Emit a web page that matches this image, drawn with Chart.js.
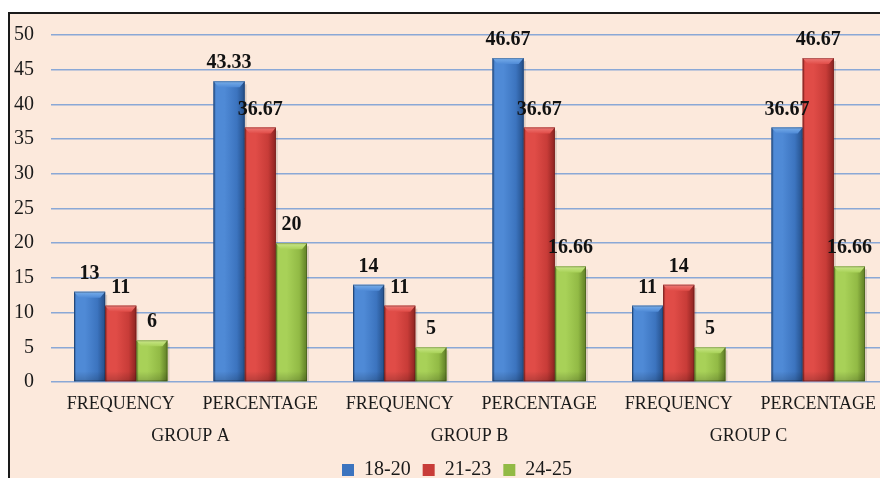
<!DOCTYPE html>
<html>
<head>
<meta charset="utf-8">
<script src="https://cdn.jsdelivr.net/npm/chart.js@4/dist/chart.umd.min.js"></script>
<style>
  html, body { margin: 0; padding: 0; background: #ffffff; overflow: hidden; width: 880px; height: 478px; }
  #frame {
    position: absolute; left: 8px; top: 12px; width: 910px; height: 500px;
    border-left: 2px solid #1a1a1a; border-top: 2px solid #1a1a1a;
    background: #FCE9DC;
  }
  #box { position: absolute; left: 0; top: -8px; width: 896px; height: 486px; }
</style>
</head>
<body>
<div id="frame"><div id="box"><canvas id="chart"></canvas></div></div>
<script>
// Category rows: measure type under each group
const categories = ['FREQUENCY', 'PERCENTAGE', 'FREQUENCY', 'PERCENTAGE', 'FREQUENCY', 'PERCENTAGE'];
const groups = ['GROUP A', 'GROUP B', 'GROUP C'];
const seriesNames = ['18-20', '21-23', '24-25'];

// Values per age band
const age18to20 = [13, 43.33, 14, 46.67, 11, 36.67];
const age21to23 = [11, 36.67, 11, 36.67, 14, 46.67];
const age24to25 = [6, 20, 5, 16.66, 5, 16.66];

// Axis ticks
const yTicks = [0, 5, 10, 15, 20, 25, 30, 35, 40, 45, 50];

const serif = '"Liberation Serif", "Times New Roman", serif';

// Shading palette for each series: edge-light, body, edge-dark, bevel
const shades = [
  { light: '#4F8AD6', mid: '#3C74BF', dark: '#2A5896', bevel: '#78AEEB' },
  { light: '#E04C47', mid: '#C83C38', dark: '#9A2926', bevel: '#F07A76' },
  { light: '#A8D158', mid: '#92BA45', dark: '#6A8B2C', bevel: '#CBE88A' }
];

// Paint each bar with a bevelled, shaded face
const bevelBars = {
  id: 'bevelBars',
  afterDatasetsDraw(chart) {
    const ctx = chart.ctx;
    chart.data.datasets.forEach((ds, di) => {
      const meta = chart.getDatasetMeta(di);
      const s = shades[di];
      meta.data.forEach(bar => {
        const w = bar.width;
        const x0 = bar.x - w / 2, x1 = bar.x + w / 2;
        const top = bar.y, base = bar.base;
        ctx.save();
        // soft drop shadow
        ctx.fillStyle = 'rgba(0,0,0,0.12)';
        ctx.fillRect(x1, top + 3, 2, base - top - 3);
        // body: horizontal shading
        const g = ctx.createLinearGradient(x0, 0, x1, 0);
        g.addColorStop(0, s.dark);
        g.addColorStop(0.08, s.light);
        g.addColorStop(0.35, s.light);
        g.addColorStop(0.75, s.mid);
        g.addColorStop(0.94, s.dark);
        g.addColorStop(1, s.dark);
        ctx.fillStyle = g;
        ctx.fillRect(x0, top, w, base - top);
        // darker foot of the bar
        const v = ctx.createLinearGradient(0, base - 10, 0, base);
        v.addColorStop(0, 'rgba(0,0,0,0)');
        v.addColorStop(1, 'rgba(0,0,0,0.18)');
        ctx.fillStyle = v;
        ctx.fillRect(x0, Math.max(top, base - 10), w, Math.min(10, base - top));
        // top bevel
        const bh = Math.min(6, (base - top) / 2);
        const tg = ctx.createLinearGradient(0, top, 0, top + bh);
        tg.addColorStop(0, s.bevel);
        tg.addColorStop(1, s.light);
        ctx.fillStyle = tg;
        ctx.beginPath();
        ctx.moveTo(x0, top);
        ctx.lineTo(x1, top);
        ctx.lineTo(x1 - 5, top + bh);
        ctx.lineTo(x0 + 5, top + bh);
        ctx.closePath();
        ctx.fill();
        // outline edges
        ctx.strokeStyle = 'rgba(0,0,0,0.25)';
        ctx.lineWidth = 1;
        ctx.strokeRect(x0 + 0.5, top + 0.5, w - 1, base - top - 1);
        ctx.restore();
      });
    });
  }
};

// Value labels above each bar
const valueLabels = {
  id: 'valueLabels',
  afterDatasetsDraw(chart) {
    const ctx = chart.ctx;
    ctx.save();
    ctx.font = 'bold 20px ' + serif;
    ctx.fillStyle = '#111111';
    ctx.textAlign = 'center';
    ctx.textBaseline = 'alphabetic';
    chart.data.datasets.forEach((ds, di) => {
      const meta = chart.getDatasetMeta(di);
      meta.data.forEach((bar, i) => {
        ctx.fillText(String(ds.data[i]), bar.x, bar.y - 13);
      });
    });
    ctx.restore();
  }
};

// Centre the legend on the full canvas width rather than the padded area
const legendShift = {
  id: 'legendShift',
  afterLayout(chart) {
    if (chart.legend) {
      chart.legend.left += 7;
      chart.legend.right += 7;
    }
  }
};

new Chart(document.getElementById('chart'), {
  type: 'bar',
  data: {
    labels: categories,
    datasets: [
      { label: seriesNames[0], data: age18to20, backgroundColor: shades[0].mid },
      { label: seriesNames[1], data: age21to23, backgroundColor: shades[1].mid },
      { label: seriesNames[2], data: age24to25, backgroundColor: shades[2].mid }
    ]
  },
  options: {
    responsive: true,
    maintainAspectRatio: false,
    animation: false,
    events: [],
    datasets: { bar: { categoryPercentage: 0.67, barPercentage: 1, borderWidth: 0 } },
    layout: { padding: { left: 2, right: 18, top: 2, bottom: 2 } },
    scales: {
      y: {
        min: 0, max: 50,
        afterBuildTicks(axis) { axis.ticks = yTicks.map(v => ({ value: v })); },
        afterFit(axis) { axis.width = 39; },
        grid: { color: '#8AA8D6', lineWidth: 1.5, drawTicks: false },
        border: { display: false },
        ticks: { padding: 17, color: '#1a1a1a', font: { family: serif, size: 20 } }
      },
      x: {
        afterFit(axis) { axis.height = 33; },
        grid: { display: false, drawTicks: false },
        border: { display: false },
        ticks: { padding: 11, color: '#1a1a1a', maxRotation: 0, autoSkip: false, font: { family: serif, size: 18 } }
      },
      groups: {
        type: 'category',
        position: 'bottom',
        labels: groups,
        offset: true,
        afterFit(axis) { axis.height = 33; },
        grid: { display: false, drawTicks: false },
        border: { display: false },
        ticks: { padding: 10, color: '#1a1a1a', maxRotation: 0, autoSkip: false, font: { family: serif, size: 18 } }
      }
    },
    plugins: {
      legend: {
        position: 'bottom',
        labels: {
          boxWidth: 12, boxHeight: 12, padding: 12,
          color: '#1a1a1a',
          font: { family: serif, size: 20 }
        }
      },
      tooltip: { enabled: false }
    }
  },
  plugins: [bevelBars, valueLabels, legendShift]
});
</script>
</body>
</html>
